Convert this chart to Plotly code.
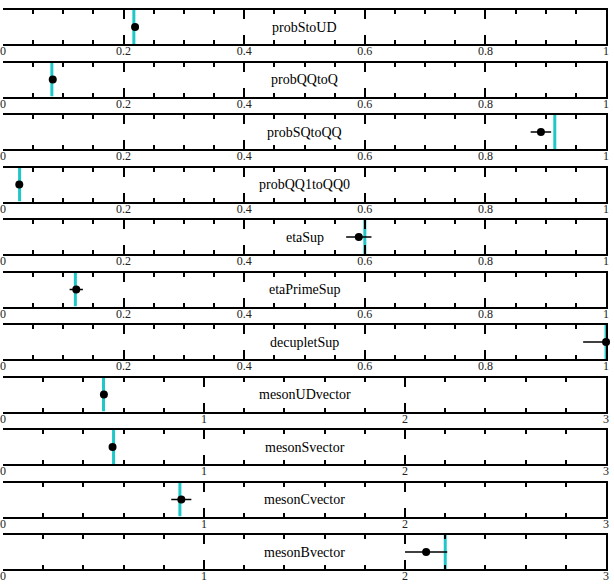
import plotly.graph_objects as go

names = ["probStoUD", "probQQtoQ", "probSQtoQQ", "probQQ1toQQ0", "etaSup", "etaPrimeSup",
         "decupletSup", "mesonUDvector", "mesonSvector", "mesonCvector", "mesonBvector"]
defaults = [0.217, 0.081, 0.915, 0.0275, 0.60, 0.12, 1.0, 0.50, 0.55, 0.88, 2.20]
tuned = [0.219, 0.0825, 0.892, 0.027, 0.590, 0.1215, 1.0, 0.502, 0.545, 0.887, 2.105]
err_minus = [0.003, 0.002, 0.017, 0.002, 0.021, 0.011, 0.038, 0.004, 0.004, 0.05, 0.105]
err_plus = [0.003, 0.002, 0.017, 0.002, 0.021, 0.011, 0.0, 0.004, 0.004, 0.05, 0.105]
xmax = [1, 1, 1, 1, 1, 1, 1, 3, 3, 3, 3]

W, H = 614, 585
fig = go.Figure()
layout = dict(width=W, height=H, margin=dict(l=0, r=0, t=0, b=0),
              paper_bgcolor="white", plot_bgcolor="white", showlegend=False)
annotations = []
cyan = "#1fc8c8"
for i, name in enumerate(names):
    k = "" if i == 0 else str(i + 1)
    top = 10 + 52.5 * i
    bot = top + 34
    dom = [1 - bot / H, 1 - top / H]
    fig.add_trace(go.Scatter(x=[defaults[i], defaults[i]], y=[0, 1], mode="lines",
                             line=dict(color=cyan, width=3), xaxis="x" + k, yaxis="y" + k,
                             cliponaxis=True, hoverinfo="skip"))
    fig.add_trace(go.Scatter(x=[tuned[i]], y=[0.5], mode="markers",
                             marker=dict(color="black", size=8),
                             error_x=dict(type="data", symmetric=False, array=[err_plus[i]],
                                          arrayminus=[err_minus[i]], color="black",
                                          thickness=1.5, width=0),
                             xaxis="x" + k, yaxis="y" + k, cliponaxis=False))
    if xmax[i] == 1:
        tv = [0, 0.2, 0.4, 0.6, 0.8, 1]
        tt = ["0", "0.2", "0.4", "0.6", "0.8", "1"]
        mdt = 0.05
    else:
        tv = [0, 1, 2, 3]
        tt = ["0", "1", "2", "3"]
        mdt = 0.2
    layout["xaxis" + k] = dict(domain=[0, 609 / W], range=[0, xmax[i]], anchor="y" + k,
                               showgrid=False, zeroline=False, showline=True, linecolor="black",
                               linewidth=2, mirror="ticks", ticks="inside", ticklen=9,
                               tickwidth=1.5, tickcolor="black", tickvals=tv, ticktext=tt,
                               ticklabelstandoff=-5, ticklabeloverflow="allow",
                               tickfont=dict(family="Liberation Serif", size=12, color="#222222"),
                               minor=dict(dtick=mdt, ticks="inside", ticklen=4, tickwidth=1.5,
                                          tickcolor="black", showgrid=False),
                               fixedrange=True)
    layout["yaxis" + k] = dict(domain=dom, range=[0, 1], anchor="x" + k, side="right",
                               showgrid=False, zeroline=False, showline=True, linecolor="black",
                               linewidth=2, mirror=False, showticklabels=False, ticks="",
                               fixedrange=True)
    annotations.append(dict(text=name, x=0.5, y=0.5, xref="x" + k + " domain",
                            yref="y" + k + " domain", showarrow=False,
                            font=dict(family="Liberation Serif", size=14, color="black")))
layout["annotations"] = annotations
fig.update_layout(**layout)
fig.write_html("out.html")
